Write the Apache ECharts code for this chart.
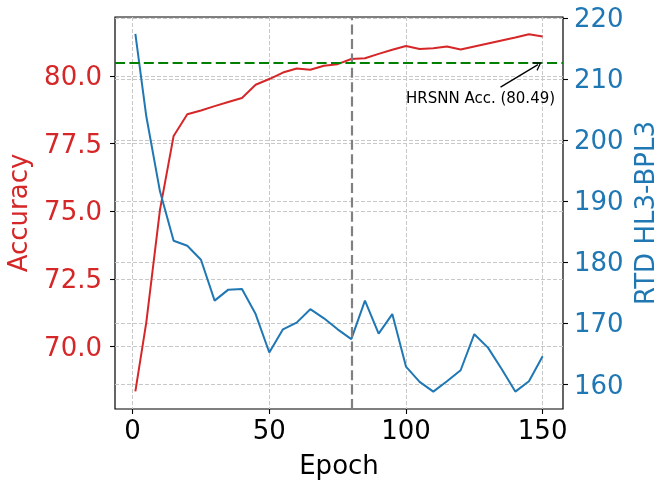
<!DOCTYPE html>
<html>
<head>
<meta charset="utf-8">
<script src="https://cdn.jsdelivr.net/npm/echarts@6/dist/echarts.min.js"></script>
<style>
html,body{margin:0;padding:0;background:#fff;}
#chart{width:657px;height:480px;}
</style>
</head>
<body>
<div id="chart"></div>
<script>
// ---- data ----
var epochs = [1,5,10,15,20,25,30,35,40,45,50,55,60,65,70,75,80,85,90,95,100,105,110,115,120,125,130,135,140,145,150];
var accuracy = [68.35,70.9,75.05,77.78,78.58,78.72,78.88,79.03,79.18,79.67,79.88,80.12,80.27,80.22,80.37,80.43,80.62,80.65,80.81,80.96,81.10,80.99,81.02,81.08,80.97,81.08,81.19,81.30,81.41,81.53,81.45];
var rtd = [217.4,203.9,191.6,183.5,182.7,180.4,173.7,175.5,175.6,171.5,165.2,169.0,170.1,172.3,170.8,169.0,167.4,173.7,168.3,171.5,162.9,160.4,158.8,160.5,162.3,168.2,166.0,162.5,158.8,160.5,164.6];
var xTicks = [0,50,100,150];
var accTicks = [70,72.5,75,77.5,80];
var rtdTicks = [160,170,180,190,200,210,220];
var hrsnnAcc = 80.49;
var markEpoch = 80;
var annText = 'HRSNN Acc. (80.49)';
var annTextPos = [100, 79.15];
var annArrowFrom = [134.6, 79.58];
var annArrowTo = [148.3, 80.41];

var FONT = 'DejaVu Sans';
var RED = '#d62728', BLUE = '#1f77b4';
var gridLine = {show:true, lineStyle:{color:'#c8c8c8', width:1, type:[4,2]}};

function pairs(xs, ys){ return xs.map(function(x,i){ return [x, ys[i]]; }); }

var chart = echarts.init(document.getElementById('chart'), null, {renderer:'canvas'});
chart.setOption({
  animation:false,
  backgroundColor:'#fff',
  grid:{left:115, right:94, top:17, bottom:71, outerBoundsMode:'none', containLabel:false,
        show:true, borderColor:'#000', borderWidth:1.2, backgroundColor:'transparent'},
  xAxis:{
    type:'value', min:-6.45, max:157.45,
    name:'Epoch', nameLocation:'middle', nameGap:45,
    nameTextStyle:{fontFamily:FONT, fontSize:26, color:'#000'},
    axisLine:{show:false, onZero:false},
    axisTick:{show:true, length:5, lineStyle:{color:'#000', width:1.1}, customValues:xTicks},
    axisLabel:{show:true, customValues:xTicks, fontFamily:FONT, fontSize:26, color:'#000', margin:10},
    splitLine:gridLine
  },
  yAxis:[{
    type:'value', position:'left', min:67.70, max:82.17,
    name:'Accuracy', nameLocation:'middle', nameGap:75, nameRotate:90,
    nameTextStyle:{fontFamily:FONT, fontSize:26, color:RED},
    axisLine:{show:false, onZero:false},
    axisTick:{show:true, length:5, lineStyle:{color:'#000', width:1.1}, customValues:accTicks},
    axisLabel:{show:true, customValues:accTicks, fontFamily:FONT, fontSize:26, color:RED, margin:13,
      rich:{t:{fontFamily:FONT, fontSize:26, color:RED, padding:[5,0,0,0]}},
      formatter:function(v){ return '{t|' + Number(v).toFixed(1) + '}'; }},
    splitLine:gridLine
  },{
    type:'value', position:'right', min:155.95, max:220.16,
    name:'RTD HL3-BPL3', nameLocation:'middle', nameGap:66, nameRotate:90,
    nameTextStyle:{fontFamily:FONT, fontSize:26, color:BLUE},
    axisLine:{show:false, onZero:false},
    axisTick:{show:true, length:5, lineStyle:{color:'#000', width:1.1}, customValues:rtdTicks},
    axisLabel:{show:true, customValues:rtdTicks, fontFamily:FONT, fontSize:26, color:BLUE, margin:11,
      rich:{t:{fontFamily:FONT, fontSize:26, color:BLUE, padding:[5,0,0,0]}},
      formatter:function(v){ return '{t|' + v + '}'; }},
    splitLine:gridLine
  }],
  series:[{
    type:'line', name:'Accuracy', yAxisIndex:0, data:pairs(epochs, accuracy),
    showSymbol:false, symbol:'none', lineStyle:{color:RED, width:2}, itemStyle:{color:RED}, z:3,
    markLine:{
      silent:true, symbol:['none','none'], animation:false,
      label:{show:false},
      data:[
        {xAxis:markEpoch, lineStyle:{color:'#808080', width:2.2, type:[10,4.4]}},
        {yAxis:hrsnnAcc, lineStyle:{color:'#008000', width:2.2, type:[10,4.4]}},
        [
          {coord:annArrowFrom, symbol:'none', lineStyle:{color:'#000', width:1.3, type:'solid'}},
          {coord:annArrowTo, symbol:'path://M0,10 L5,0 L10,10 L8.8,10.7 L5,3 L1.2,10.7 Z', symbolSize:[10,8]}
        ]
      ]
    },
    markPoint:{
      silent:true, animation:false,
      data:[{coord:annTextPos, symbol:'circle', symbolSize:0,
        label:{show:true, formatter:annText, position:'right', distance:0,
          fontFamily:FONT, fontSize:15, color:'#000'}}]
    }
  },{
    type:'line', name:'RTD', yAxisIndex:1, data:pairs(epochs, rtd),
    showSymbol:false, symbol:'none', lineStyle:{color:BLUE, width:2}, itemStyle:{color:BLUE}, z:4
  }]
});
</script>
</body>
</html>
